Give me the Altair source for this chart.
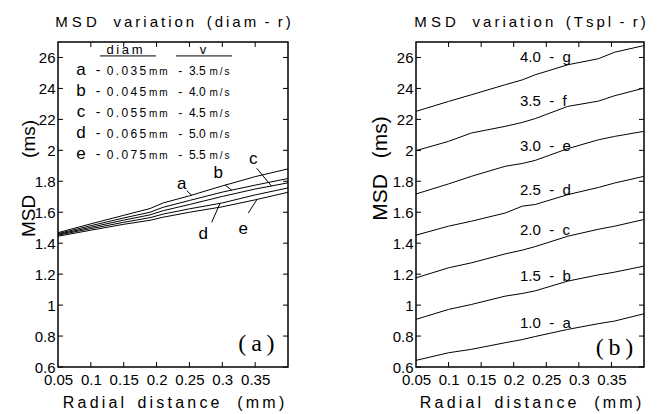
import json
import altair as alt
import pandas as pd

# ---------------- data ----------------
# panel (a): MSD vs radial distance for several droplet diameters
radius_left = [0.05, 0.10, 0.15, 0.19, 0.21, 0.25, 0.30, 0.35, 0.40]
msd_diam_a = [1.468, 1.525, 1.580, 1.624, 1.660, 1.706, 1.770, 1.830, 1.880]
msd_diam_b = [1.462, 1.513, 1.563, 1.600, 1.632, 1.676, 1.730, 1.775, 1.818]
msd_diam_c = [1.457, 1.503, 1.549, 1.583, 1.610, 1.650, 1.702, 1.750, 1.790]
msd_diam_d = [1.452, 1.494, 1.535, 1.565, 1.588, 1.622, 1.660, 1.712, 1.757]
msd_diam_e = [1.445, 1.484, 1.522, 1.548, 1.568, 1.600, 1.635, 1.680, 1.729]
diam_keys = ["a", "b", "c", "d", "e"]
diam_values = ["0.035", "0.045", "0.055", "0.065", "0.075"]
speed_values = ["3.5", "4.0", "4.5", "5.0", "5.5"]

# panel (b): MSD vs radial distance for several Tspl
radius_right = [0.05, 0.10, 0.135, 0.187, 0.213, 0.233, 0.283, 0.33, 0.355, 0.40]
msd_tspl_a = [0.643, 0.692, 0.714, 0.757, 0.777, 0.797, 0.843, 0.880, 0.897, 0.944]
msd_tspl_b = [0.908, 0.972, 1.004, 1.058, 1.075, 1.092, 1.155, 1.195, 1.213, 1.252]
msd_tspl_c = [1.176, 1.241, 1.273, 1.331, 1.355, 1.378, 1.445, 1.490, 1.510, 1.553]
msd_tspl_d = [1.452, 1.510, 1.542, 1.595, 1.639, 1.650, 1.714, 1.760, 1.789, 1.832]
msd_tspl_e = [1.718, 1.783, 1.832, 1.897, 1.915, 1.935, 2.011, 2.068, 2.090, 2.123]
msd_tspl_f = [1.998, 2.058, 2.112, 2.155, 2.180, 2.205, 2.284, 2.318, 2.353, 2.402]
msd_tspl_g = [2.252, 2.316, 2.359, 2.424, 2.455, 2.488, 2.553, 2.592, 2.634, 2.677]
tspl_labels = ["1.0 - a", "1.5 - b", "2.0 - c", "2.5 - d", "3.0 - e", "3.5 - f", "4.0 - g"]

y_ticks = [0.6, 0.8, 1.0, 1.2, 1.4, 1.6, 1.8, 2.0, 2.2, 2.4, 2.6]
y_tick_labels = ["0.6", "0.8", "1", "1.2", "1.4", "1.6", "1.8", "2", "22", "24", "26"]
x_ticks = [0.05, 0.10, 0.15, 0.20, 0.25, 0.30, 0.35]
x_tick_labels = ["0.05", "0.1", "0.15", "0.2", "0.25", "0.3", "0.35"]

# ---------------- annotation placement (data coordinates) ----------------
left_label_x = [0.2382, 0.2939, 0.3472, 0.2711, 0.3320]
left_label_y = [1.784, 1.856, 1.942, 1.458, 1.490]
leader_x1 = [0.2458, 0.3041, 0.3524, 0.2839, 0.3396]
leader_y1 = [1.739, 1.777, 1.884, 1.535, 1.595]
leader_x2 = [0.2535, 0.3143, 0.3752, 0.2965, 0.3524]
leader_y2 = [1.710, 1.742, 1.768, 1.657, 1.680]
legend_row_y = [2.487, 2.351, 2.216, 2.080, 1.944]
right_label_x = 0.2096
right_label_y = [0.854, 1.155, 1.452, 1.714, 1.998, 2.284, 2.574]

# ---------------- styling ----------------
NBSP = "\u00a0"
THIN = "\u2009"
SANS = "Liberation Sans"
NARROW = "Liberation Sans Narrow, Liberation Sans"
SERIF = "Liberation Serif"


def spaced(s):
    return THIN.join(s)


W1, W2, H = 230, 228, 325
x_scale = alt.Scale(domain=[0.05, 0.40], nice=False, zero=False)
y_scale = alt.Scale(domain=[0.6, 2.7], nice=False, zero=False)

x_title = spaced("Radial") + NBSP * 3 + spaced("distance") + NBSP * 4 + spaced("(mm)")

X_AXIS = alt.Axis(
    values=x_ticks,
    labelExpr=json.dumps(x_tick_labels) + "[round((datum.value - 0.05) / 0.05)]",
    ticks=False, domain=False, grid=False,
    labelFont=NARROW, labelFontSize=15, labelColor="black", labelPadding=5,
    labelFlush=False, labelOverlap=False,
    title=x_title, titleFont=SANS, titleFontSize=16, titleFontWeight="normal",
    titleColor="black", titlePadding=7,
)


def y_axis(title, size, tx, ty):
    return alt.Axis(
        values=y_ticks,
        labelExpr=json.dumps(y_tick_labels) + "[round((datum.value - 0.6) / 0.2)]",
        ticks=False, domain=False, grid=False,
        labelFont=NARROW, labelFontSize=15, labelColor="black", labelPadding=3,
        labelFlush=False, labelOverlap=False,
        title=title, titleFont=SANS, titleFontSize=size, titleFontWeight="normal",
        titleColor="black", titleX=tx, titleY=ty, titleAngle=270,
        titleAlign="center", titleBaseline="middle",
    )


Y_AXIS_L = y_axis("MSD" + NBSP * 7 + "(ms)", 19, -30, 136)
Y_AXIS_R = y_axis("MSD" + NBSP * 2 + THIN + "(ms)", 21, -36, 126)


def X(field, **kw):
    return alt.X(field, scale=x_scale, axis=X_AXIS, **kw)


def Y(field, yax, **kw):
    return alt.Y(field, scale=y_scale, axis=yax, **kw)


def tick_layers(W, yax):
    yt = pd.DataFrame({"v": y_ticks})
    xt = pd.DataFrame({"v": x_ticks[1:]})
    return [
        alt.Chart(yt).mark_rule(color="black", strokeWidth=1).encode(
            y=Y("v:Q", yax), x=alt.value(0), x2=alt.value(5)),
        alt.Chart(yt).mark_rule(color="black", strokeWidth=1).encode(
            y=Y("v:Q", yax), x=alt.value(W - 5), x2=alt.value(W)),
        alt.Chart(xt).mark_rule(color="black", strokeWidth=1).encode(
            x=X("v:Q"), y=alt.value(0), y2=alt.value(5)),
        alt.Chart(xt).mark_rule(color="black", strokeWidth=1).encode(
            x=X("v:Q"), y=alt.value(H - 5), y2=alt.value(H)),
    ]


def text_layer(df, yax, size, align="center", baseline="alphabetic", font=SANS):
    return alt.Chart(df).mark_text(
        font=font, fontSize=size, align=align, baseline=baseline, color="black"
    ).encode(x=X("x:Q"), y=Y("y:Q", yax), text="t:N")


def panel_title(text):
    return alt.TitleParams(text=text, font=SANS, fontSize=15, fontWeight="normal",
                           color="black", anchor="middle", frame="group", offset=12)


# ---------------- left panel ----------------
YL = Y_AXIS_L
left_series = [msd_diam_a, msd_diam_b, msd_diam_c, msd_diam_d, msd_diam_e]
left_df = pd.DataFrame({
    "r": radius_left * len(left_series),
    "msd": sum(left_series, []),
    "s": sum([[k] * len(radius_left) for k in diam_keys], []),
})
left_lines = alt.Chart(left_df).mark_line(color="black", strokeWidth=1).encode(
    x=X("r:Q"), y=Y("msd:Q", YL), detail="s:N",
)

leaders = alt.Chart(pd.DataFrame({
    "x1": leader_x1, "y1": leader_y1, "x2": leader_x2, "y2": leader_y2,
})).mark_rule(color="black", strokeWidth=1).encode(
    x=X("x1:Q"), y=Y("y1:Q", YL), x2="x2:Q", y2="y2:Q",
)
line_labels = text_layer(pd.DataFrame({"x": left_label_x, "y": left_label_y, "t": diam_keys}),
                         YL, 17, baseline="middle")

legend_letters = text_layer(pd.DataFrame({"x": [0.0850] * 5, "y": legend_row_y, "t": diam_keys}), YL, 17)
legend_dash = text_layer(pd.DataFrame({"x": [0.1109] * 5, "y": legend_row_y, "t": ["-"] * 5}), YL, 14)
legend_diam = text_layer(pd.DataFrame({"x": [0.1240] * 5, "y": legend_row_y,
                                       "t": [spaced(v) for v in diam_values]}), YL, 12, align="left")
legend_mm = text_layer(pd.DataFrame({"x": [0.1885] * 5, "y": legend_row_y,
                                     "t": [spaced("mm")] * 5}), YL, 10, align="left")
legend_speed = text_layer(pd.DataFrame({"x": [0.2330] * 5, "y": legend_row_y,
                                        "t": ["-" + NBSP * 2 + v for v in speed_values]}),
                          YL, 12, align="left")
legend_ms = text_layer(pd.DataFrame({"x": [0.2805] * 5, "y": legend_row_y,
                                     "t": [spaced("m/s")] * 5}), YL, 10, align="left")
legend_head = text_layer(pd.DataFrame({"x": [0.1512, 0.2706], "y": [2.623, 2.623],
                                       "t": [spaced("diam"), "v"]}), YL, 13)
legend_under = alt.Chart(pd.DataFrame({
    "x1": [0.1139, 0.2296], "x2": [0.1991, 0.3148], "y": [2.610, 2.610],
})).mark_rule(color="black", strokeWidth=1).encode(
    x=X("x1:Q"), x2="x2:Q", y=Y("y:Q", YL),
)
tag_a = text_layer(pd.DataFrame({"x": [0.352], "y": [0.749], "t": ["(" + THIN + "a" + THIN + ")"]}),
                   YL, 24, baseline="middle", font=SERIF)

left_title = ("M S D" + NBSP * 4 + spaced("variation") + NBSP * 3 + "(" + THIN + spaced("diam")
              + NBSP * 2 + "-" + NBSP * 2 + "r" + THIN + ")")
left = alt.layer(
    left_lines, *tick_layers(W1, YL), leaders, line_labels,
    legend_letters, legend_dash, legend_diam, legend_mm, legend_speed, legend_ms,
    legend_head, legend_under, tag_a,
).properties(width=W1, height=H, title=panel_title(left_title))

# ---------------- right panel ----------------
YR = Y_AXIS_R
right_series = [msd_tspl_a, msd_tspl_b, msd_tspl_c, msd_tspl_d, msd_tspl_e, msd_tspl_f, msd_tspl_g]
right_keys = ["a", "b", "c", "d", "e", "f", "g"]
right_df = pd.DataFrame({
    "r": radius_right * len(right_series),
    "msd": sum(right_series, []),
    "s": sum([[k] * len(radius_right) for k in right_keys], []),
})
right_lines = alt.Chart(right_df).mark_line(color="black", strokeWidth=1).encode(
    x=X("r:Q"), y=Y("msd:Q", YR), detail="s:N",
)
right_labels = text_layer(pd.DataFrame({
    "x": [right_label_x] * len(tspl_labels), "y": right_label_y,
    "t": [t.replace(" ", NBSP * 2) for t in tspl_labels],
}), YR, 15, align="left")
tag_b = text_layer(pd.DataFrame({"x": [0.3547], "y": [0.723], "t": ["(" + THIN + "b" + THIN + ")"]}),
                   YR, 24, baseline="middle", font=SERIF)

right_title = ("M S D" + NBSP * 4 + spaced("variation") + NBSP * 3 + "(" + THIN + spaced("Tspl")
               + NBSP * 2 + "-" + NBSP * 2 + "r" + THIN + ")")
right = alt.layer(right_lines, *tick_layers(W2, YR), right_labels, tag_b).properties(
    width=W2, height=H, title=panel_title(right_title),
)

chart = alt.hconcat(left, right, spacing=128, bounds="flush").properties(
    padding={"left": 10, "top": 5, "right": 5, "bottom": 5},
    background="white",
).configure_view(stroke="black", strokeWidth=1.5)

chart.save("out.html", embed_options={"renderer": "svg", "actions": False})
